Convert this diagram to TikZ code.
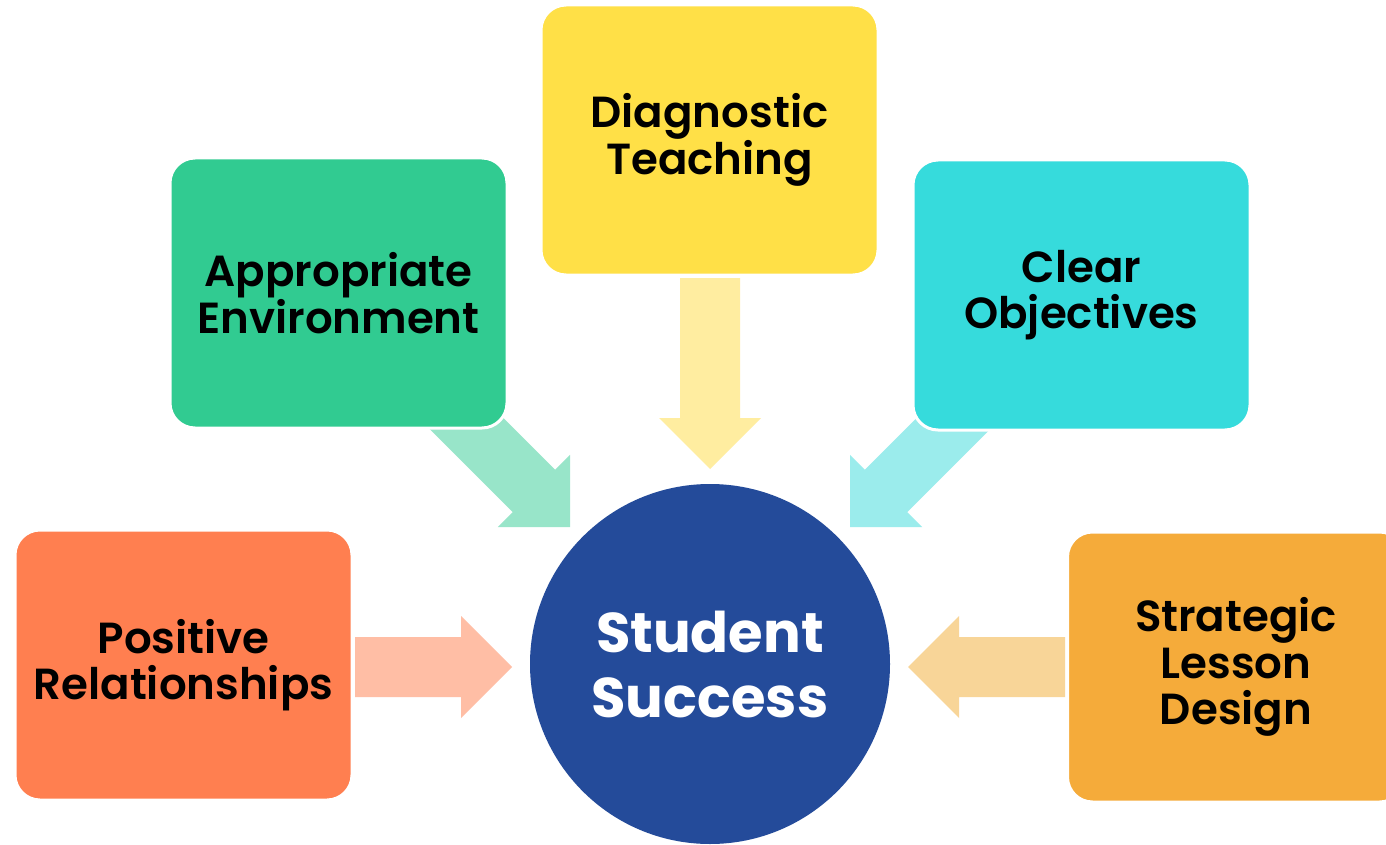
\documentclass[tikz,border=0pt]{standalone}
\usepackage{fontspec}
\setmainfont{Poppins}
\newfontfamily\semib{Poppins SemiBold}
\definecolor{cgreen}{HTML}{31CB91}
\definecolor{lgreen}{HTML}{98E5C9}
\definecolor{cyellow}{HTML}{FFE047}
\definecolor{lyellow}{HTML}{FFEDA0}
\definecolor{ccyan}{HTML}{36DBDC}
\definecolor{lcyan}{HTML}{9BECEC}
\definecolor{ccoral}{HTML}{FF7F50}
\definecolor{lcoral}{HTML}{FFBEA5}
\definecolor{corange}{HTML}{F5AB3A}
\definecolor{lorange}{HTML}{F8D598}
\definecolor{navy}{HTML}{244B9A}
\newcommand\blockarr[4]{%
  \fill[#4, shift={(#1)}, rotate=#2] (0,0) -- (-51,51) -- (-51,30) -- (-#3,30) -- (-#3,-30) -- (-51,-30) -- (-51,-51) -- cycle;}
\begin{document}
\begin{tikzpicture}[x=1pt,y=-1pt,
  box/.style={draw=white, line width=3pt, rounded corners=25pt, minimum width=337pt,
    minimum height=270pt, inner sep=0pt, align=center, text=black,
    font=\semib\fontsize{43.5}{46.5}\selectfont}]
\useasboundingbox (0,0) rectangle (1386,845);
\clip (0,0) rectangle (1386,845);
\fill[white] (0,0) rectangle (1386,845);
% arrow tips
\coordinate (tipA) at (570,527);
\coordinate (tipD) at (710,469);
\coordinate (tipC) at (850,527);
\coordinate (tipP) at (512,667);
\coordinate (tipS) at (908,667);
\blockarr{tipA}{-45}{200}{lgreen}
\blockarr{tipD}{-90}{191}{lyellow}
\blockarr{tipC}{-135}{200}{lcyan}
\blockarr{tipP}{0}{157}{lcoral}
\blockarr{tipS}{180}{157}{lorange}
% boxes
\node[box, fill=cgreen] (env) at (338.5,293) {Appropriate\\Environment};
\node[box, fill=cyellow] (diag) at (709.5,140) {Diagnostic\\Teaching};
\node[box, fill=ccyan] (obj) at (1081.5,295) {Clear\\Objectives};
\node[box, fill=ccoral] (rel) at (183.5,665) {Positive\\Relationships};
\node[box, fill=corange] (les) at (1236,667) {Strategic\\Lesson\\Design};
\node[circle, fill=navy, minimum size=360pt, inner sep=0pt, text=white, align=center,
  font=\bfseries\fontsize{56}{65}\selectfont] (hub) at (710,664) {Student\\Success};
\end{tikzpicture}
\end{document}
